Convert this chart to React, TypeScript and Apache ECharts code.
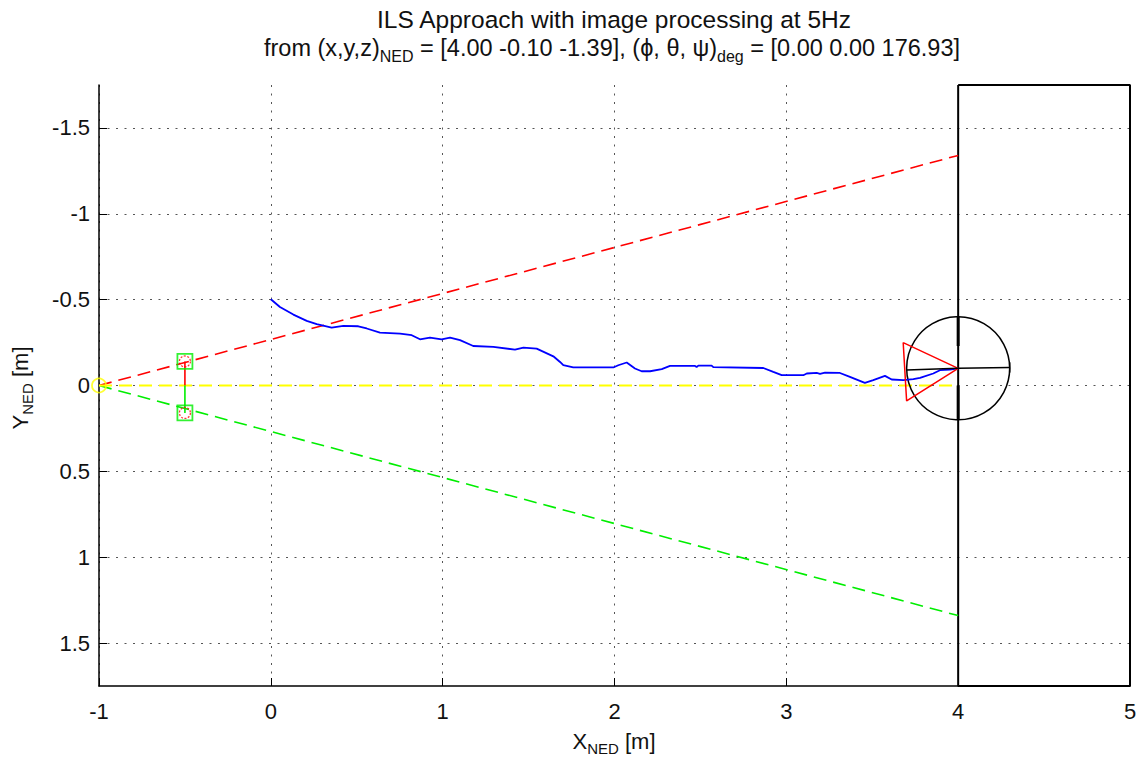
import React, { useEffect, useRef } from "react";
import * as echarts from "echarts";

const FONT = "'Liberation Sans', Arial, Helvetica, sans-serif";

// Axis settings
const xTicks = [-1, 0, 1, 2, 3, 4, 5];
const yTicks = [-1.5, -1, -0.5, 0, 0.5, 1, 1.5];

// Glide-slope boundaries (red / green) and centre line (yellow)
const redBoundary = [[-1, 0], [4, -1.34]];
const greenBoundary = [[-1, 0], [4, 1.34]];
const centreLine = [[-1, 0], [4, 0]];
const originMarker = [[-1, 0]];

// Gate markers
const gateTop = [[-0.5, -0.14]];
const gateBottom = [[-0.5, 0.16]];
const gateRedSeg = [[-0.5, -0.14], [-0.5, 0]];
const gateGreenSeg = [[-0.5, 0], [-0.5, 0.16]];

// Flight trajectory (blue)
const trajX = [
  0.0, 0.053, 0.131, 0.209, 0.267, 0.354, 0.422, 0.509, 0.558, 0.635, 0.752, 0.82, 0.868, 0.926,
  0.994, 1.043, 1.101, 1.178, 1.295, 1.421, 1.47, 1.547, 1.644, 1.683, 1.702, 1.76, 1.993, 2.022,
  2.071, 2.119, 2.158, 2.207, 2.275, 2.323, 2.469, 2.478, 2.488, 2.565, 2.575, 2.866, 2.924, 2.973,
  3.099, 3.119, 3.177, 3.196, 3.225, 3.312, 3.37, 3.457, 3.506, 3.574, 3.613, 3.681, 3.739, 3.778,
  3.855, 3.894, 3.952, 4.0,
];
const trajY = [
  -0.502, -0.457, -0.413, -0.376, -0.357, -0.337, -0.347, -0.345, -0.332, -0.308, -0.302, -0.293,
  -0.269, -0.279, -0.269, -0.279, -0.264, -0.23, -0.225, -0.209, -0.221, -0.215, -0.17, -0.137,
  -0.118, -0.105, -0.105, -0.118, -0.134, -0.099, -0.083, -0.083, -0.095, -0.114, -0.114, -0.108,
  -0.116, -0.116, -0.107, -0.102, -0.079, -0.06, -0.06, -0.07, -0.073, -0.068, -0.075, -0.073,
  -0.05, -0.015, -0.031, -0.056, -0.035, -0.031, -0.037, -0.044, -0.07, -0.089, -0.093, -0.1,
];

// Vehicle glyph
const vehicleCircle = [[4, -0.1, 0.3]]; // centre x, centre y, radius
const fovTriangle = [[3.68, -0.25], [4.0, -0.1], [3.7, 0.09], [3.68, -0.25]];
const bodyAxisX = [[3.7, -0.09], [4.0, -0.1], [4.3, -0.105]];
const bodyAxisXTip = [[4.3, -0.135], [4.3, -0.075]];
const bodyAxisYTop = [[4.0, -0.4], [4.0, -0.23]];
const bodyAxisYBottom = [[4.0, 0.0], [4.0, 0.2]];

// Runway box
const runwayBox = [[4, -1.75], [5, -1.75], [5, 1.75], [4, 1.75], [4, -1.75]];

function lineSeries(data: number[][], color: string, width: number, dashed?: boolean, z = 3) {
  return {
    type: "line",
    data,
    symbol: "none",
    showSymbol: false,
    z,
    lineStyle: { color, width, type: dashed ? [13, 7] : "solid" },
    silent: true,
  };
}

export default function App() {
  const ref = useRef<HTMLDivElement>(null);
  useEffect(() => {
    if (!ref.current) return;
    const chart = echarts.init(ref.current, undefined, { renderer: "svg" });
    const traj = trajX.map((x, i) => [x, trajY[i]]);
    const option: any = {
      animation: false,
      backgroundColor: "#ffffff",
      textStyle: { fontFamily: FONT },
      grid: { left: 99, right: 12, top: 85, bottom: 79, containLabel: false },
      xAxis: {
        type: "value",
        min: -1,
        max: 5,
        interval: 1,
        axisLine: { show: true, onZero: false, lineStyle: { color: "#000", width: 1.5 } },
        axisTick: { show: true, inside: true, length: 8, lineStyle: { color: "#000", width: 1 } },
        axisLabel: { color: "#111", fontSize: 22, fontFamily: FONT, margin: 14 },
        splitLine: { show: true, lineStyle: { color: "#555", width: 1, type: [2, 6.5] } },
      },
      yAxis: {
        type: "value",
        inverse: true,
        min: -1.75,
        max: 1.75,
        axisLine: { show: true, onZero: false, lineStyle: { color: "#000", width: 1.5 } },
        axisTick: {
          show: true,
          inside: true,
          length: 8,
          customValues: yTicks,
          lineStyle: { color: "#000", width: 1 },
        },
        axisLabel: {
          color: "#111",
          fontSize: 22,
          fontFamily: FONT,
          margin: 9,
          customValues: yTicks,
        },
        splitLine: { show: true, lineStyle: { color: "#555", width: 1, type: [2, 6.5] } },
      },
      graphic: [
        {
          type: "text",
          x: 614,
          y: 19,
          style: {
            text: "ILS Approach with image processing at 5Hz",
            font: `24.5px ${FONT}`,
            fill: "#111",
            align: "center",
            verticalAlign: "middle",
          },
        },
        {
          type: "text",
          x: 612,
          y: 50,
          style: {
            text:
              "{n|from (x,y,z)}{s|NED}{n| = [4.00 -0.10 -1.39], (ϕ, θ, ψ)}{s|deg}{n| = [0.00 0.00 176.93]}",
            align: "center",
            verticalAlign: "middle",
            rich: {
              n: { fontSize: 23.5, fontFamily: FONT, fill: "#111", lineHeight: 28, verticalAlign: "top" },
              s: { fontSize: 16, fontFamily: FONT, fill: "#111", lineHeight: 18, verticalAlign: "bottom" },
            },
          },
        },
        {
          type: "text",
          x: 614,
          y: 743,
          style: {
            text: "{n|X}{s|NED}{n| [m]}",
            align: "center",
            verticalAlign: "middle",
            rich: {
              n: { fontSize: 22, fontFamily: FONT, fill: "#111", lineHeight: 26, verticalAlign: "top" },
              s: { fontSize: 15, fontFamily: FONT, fill: "#111", lineHeight: 17, verticalAlign: "bottom" },
            },
          },
        },
        {
          type: "text",
          x: 22,
          y: 388,
          rotation: Math.PI / 2,
          style: {
            text: "{n|Y}{s|NED}{n| [m]}",
            align: "center",
            verticalAlign: "middle",
            rich: {
              n: { fontSize: 22, fontFamily: FONT, fill: "#111", lineHeight: 26, verticalAlign: "top" },
              s: { fontSize: 15, fontFamily: FONT, fill: "#111", lineHeight: 17, verticalAlign: "bottom" },
            },
          },
        },
      ],
      series: [
        lineSeries(runwayBox, "#000", 2, false, 2),
        lineSeries(redBoundary, "#ff0000", 1.6, true),
        lineSeries(greenBoundary, "#00ee00", 1.6, true),
        lineSeries(centreLine, "#ffff00", 2, true),
        lineSeries(gateRedSeg, "#ff0000", 1.6),
        lineSeries(gateGreenSeg, "#00ee00", 1.6),
        {
          type: "scatter",
          data: gateTop.concat(gateBottom),
          symbol: "rect",
          symbolSize: 15,
          z: 4,
          itemStyle: { color: "transparent", borderColor: "#00ee00", borderWidth: 1.8 },
          silent: true,
        },
        {
          type: "scatter",
          data: gateTop.concat(gateBottom),
          symbol: "circle",
          symbolSize: 11,
          z: 5,
          itemStyle: { color: "transparent", borderColor: "#ff0000", borderWidth: 1.3, borderType: [2, 1.5] },
          silent: true,
        },
        {
          type: "scatter",
          data: originMarker,
          symbol: "circle",
          symbolSize: 14,
          z: 5,
          itemStyle: { color: "transparent", borderColor: "#ffff00", borderWidth: 1.8 },
          silent: true,
        },
        {
          type: "custom",
          data: vehicleCircle,
          z: 4,
          silent: true,
          renderItem: (params: any, api: any) => {
            const c = api.coord([api.value(0), api.value(1)]);
            const s = api.size([api.value(2), api.value(2)]);
            return {
              type: "circle",
              shape: { cx: c[0], cy: c[1], r: (s[0] + s[1]) / 2 },
              style: { fill: "none", stroke: "#000", lineWidth: 1.5 },
            };
          },
        },
        lineSeries(traj, "#0000ff", 1.8, false, 6),
        lineSeries(fovTriangle, "#ff0000", 1.5, false, 7),
        lineSeries(bodyAxisX, "#000", 1.5, false, 7),
        lineSeries(bodyAxisXTip, "#000", 1.5, false, 7),
        lineSeries(bodyAxisYTop, "#000", 3, false, 7),
        lineSeries(bodyAxisYBottom, "#000", 3, false, 7),
      ],
    };
    chart.setOption(option);
    return () => chart.dispose();
  }, []);
  return (
    <div
      ref={ref}
      style={{ position: "absolute", left: 0, top: 0, width: 1142, height: 765, background: "#fff" }}
    />
  );
}
